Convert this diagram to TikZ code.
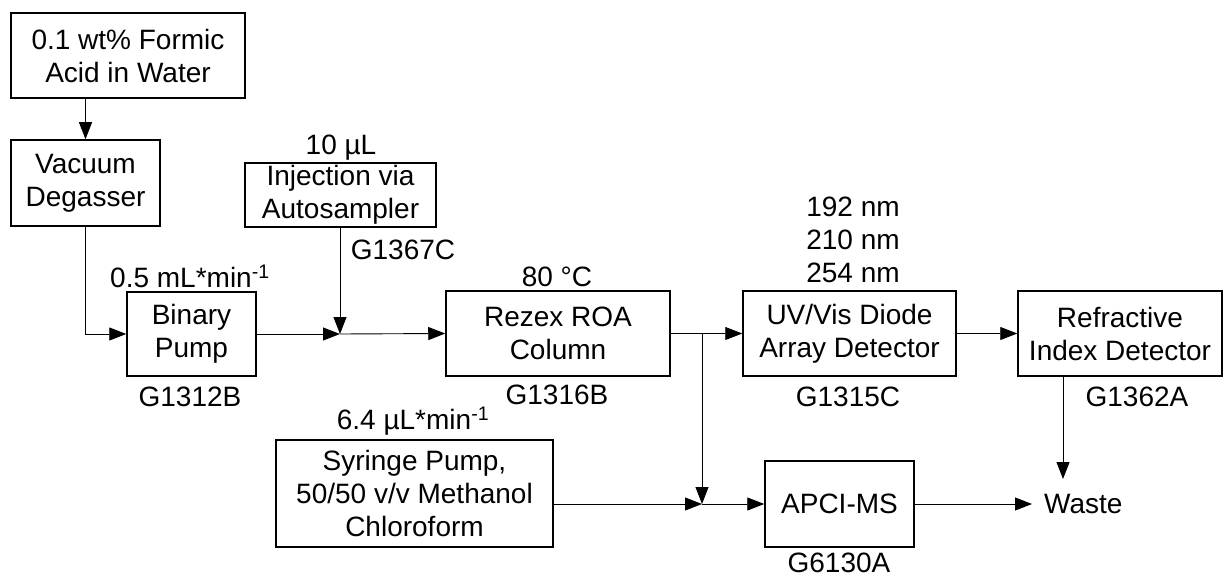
\documentclass[tikz,border=0pt]{standalone}
\usepackage{fontspec}
\setmainfont{Liberation Sans}
\usetikzlibrary{arrows.meta}
\tikzset{
  lbl/.style={font=\fontsize{28pt}{33pt}\selectfont, inner sep=0pt, align=center},
  box/.style={lbl, draw, line width=1.5pt},
  conn/.style={line width=0.9pt, -{Triangle[length=17pt,width=13pt]}},
  plain/.style={line width=0.9pt}
}
\begin{document}
\begin{tikzpicture}[x=1pt,y=-1pt]
\useasboundingbox (0,0) rectangle (1225,577);
% boxes
\node[box, minimum width=234pt, minimum height=85pt] (formic) at (128,55.5) {0.1 wt\% Formic\\Acid in Water};
\node[box, minimum width=149pt, minimum height=86pt] (degas) at (85.5,183) {Vacuum\\Degasser};
\node[box, minimum width=191pt, minimum height=64pt] (inject) at (340.5,195) {Injection via\\Autosampler};
\node[box, minimum width=129pt, minimum height=84pt] (pump) at (191.5,334) {Binary\\Pump};
\node[box, minimum width=224pt, minimum height=85pt] (column) at (558,333.5) {Rezex ROA\\Column};
\node[box, minimum width=213pt, minimum height=85pt] (uv) at (849.5,333.5) {UV/Vis Diode\\Array Detector};
\node[box, minimum width=204pt, minimum height=85pt] (ri) at (1120,333.5) {Refractive\\Index Detector};
\node[box, minimum width=277pt, minimum height=107pt] (syringe) at (414.5,493.5) {Syringe Pump,\\50/50 v/v Methanol\\Chloroform};
\node[box, minimum width=149pt, minimum height=86pt] (apci) at (839.5,504) {APCI-MS};
% labels
\node[lbl] (l10) at (341,148) {10 µL};
\node[lbl] (lg1367) at (403,250) {G1367C};
\node[lbl] (lflow) at (190,276) {0.5 mL*min\textsuperscript{-1}};
\node[lbl] (lg1312) at (190,397) {G1312B};
\node[lbl] (l80) at (557,277) {80 °C};
\node[lbl] (lg1316) at (557,395) {G1316B};
\node[lbl] (lnm) at (853,240) {192 nm\\210 nm\\254 nm};
\node[lbl] (lg1315) at (848,397) {G1315C};
\node[lbl] (lg1362) at (1137,397) {G1362A};
\node[lbl] (lsyr) at (413,421) {6.4 µL*min\textsuperscript{-1}};
\node[lbl] (lg6130) at (839,563) {G6130A};
\node[lbl, anchor=west] (waste) at (1044,504) {Waste};
% junctions
\coordinate (j1) at (340,334);
\coordinate (j2) at (702,334);
\coordinate (j3) at (702,504);
\coordinate (wtop) at (1063,479);
\coordinate (wleft) at (1032,504);
% connectors
\draw[conn] (formic.south -| degas.north) -- (degas.north);
\draw[conn] (degas.south) |- (pump.west);
\draw[conn] (pump.east) -- (j1);
\draw[conn] (inject.south -| j1) -- (j1);
\draw[conn] (j1) -- (column.west);
\draw[conn] (column.east) -- (uv.west);
\draw[conn] (j2) -- (j3);
\draw[conn] (syringe.east |- j3) -- (j3);
\draw[conn] (j3) -- (apci.west);
\draw[conn] (uv.east) -- (ri.west);
\draw[conn] (ri.south -| wtop) -- (wtop);
\draw[conn] (apci.east) -- (wleft);
\end{tikzpicture}
\end{document}
